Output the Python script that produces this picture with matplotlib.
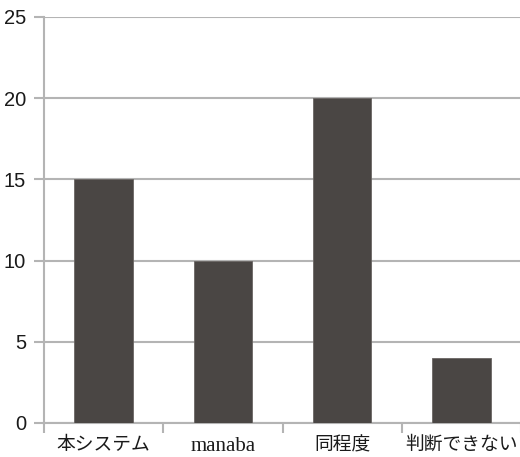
import matplotlib
matplotlib.use("Agg")
import matplotlib.pyplot as plt
import numpy as np

categories = ["本システム", "manaba", "同程度", "判断できない"]
counts = [15, 10, 20, 4]
y_ticks = [0, 5, 10, 15, 20, 25]

grid_gray = "#b4b4b4"
bar_color = "#4a4644"

fig = plt.figure(figsize=(5.2, 4.57), dpi=100)
ax = fig.add_axes([44 / 520, 34 / 457, 477 / 520, 406 / 457])

x = np.arange(len(categories))
ax.bar(x, counts, width=0.49, color=bar_color, edgecolor="#6a6664", linewidth=0.6, zorder=3)

ax.set_xlim(-0.5, len(categories) - 0.5)
ax.set_ylim(0, 25)
ax.set_yticks(y_ticks)
ax.yaxis.grid(True, color=grid_gray, linewidth=1.5, zorder=0)

# labels centred under bars, tick marks on category boundaries
ax.set_xticks(x)
ax.set_xticklabels(categories, family=["Liberation Serif", "Noto Sans CJK JP"], fontsize=13.5)
for lbl in ax.get_xticklabels():
    if lbl.get_text() == "manaba":
        lbl.set_fontsize(15)
ax.set_xticks(np.arange(len(categories) + 1) - 0.5, minor=True)
ax.tick_params(axis="x", which="major", length=0, pad=10, colors="#1a1a1a")
ax.tick_params(axis="x", which="minor", length=7, width=1.5, color=grid_gray)
ax.tick_params(axis="y", length=7, width=1.5, color=grid_gray, pad=6, labelsize=14.5,
               labelcolor="#1a1a1a")
for lbl in ax.get_yticklabels():
    lbl.set_family("Liberation Sans")

for side in ("top", "right"):
    ax.spines[side].set_visible(False)
for side in ("left", "bottom"):
    ax.spines[side].set_color(grid_gray)
    ax.spines[side].set_linewidth(1.5)

fig.savefig("out.png", dpi=100)
